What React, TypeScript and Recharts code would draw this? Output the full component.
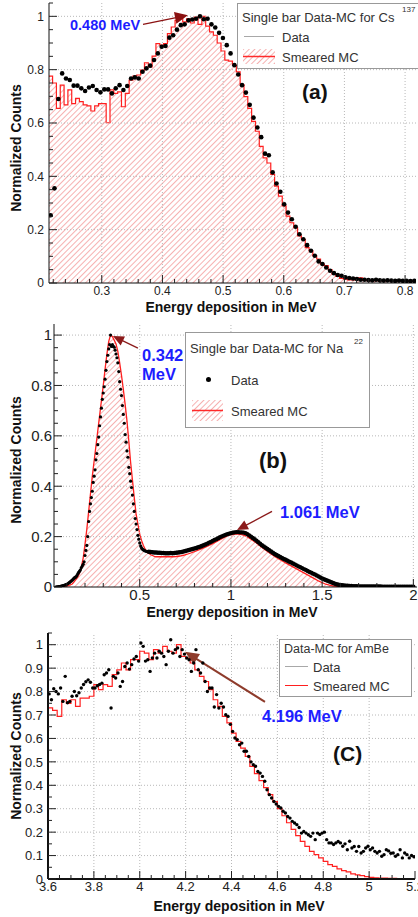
import React from 'react';
import { ComposedChart, Area, Line, Scatter, XAxis, YAxis, ReferenceLine } from 'recharts';

const FONT = '"Liberation Sans", Arial, Helvetica, sans-serif';

// ================= Panel (a): Cs-137 =================
const csBinStart = 0.2126;
const csBinWidth = 0.00631;
const csDataY = [
  0.254, 0.355, 0.69, 0.786, 0.767, 0.761, 0.74, 0.74, 0.73, 0.72,
  0.733, 0.739, 0.724, 0.715, 0.726, 0.726, 0.711, 0.73, 0.742, 0.724,
  0.739, 0.767, 0.771, 0.767, 0.792, 0.805, 0.815, 0.836, 0.861, 0.886,
  0.889, 0.92, 0.929, 0.95, 0.967, 0.97, 0.985, 0.988, 0.991, 1.0,
  0.989, 0.991, 0.97, 0.958, 0.938, 0.919, 0.892, 0.861, 0.817, 0.782,
  0.742, 0.714, 0.668, 0.62, 0.583, 0.547, 0.485, 0.479, 0.415, 0.373,
  0.342, 0.295, 0.264, 0.239, 0.211, 0.183, 0.164, 0.142, 0.121, 0.102,
  0.081, 0.071, 0.058, 0.046, 0.037, 0.03, 0.027, 0.021, 0.019, 0.017,
  0.015, 0.012, 0.012, 0.011, 0.01, 0.012, 0.01, 0.009, 0.01, 0.009,
  0.008, 0.009, 0.008, 0.008, 0.007, 0.008,
];
const csMcY = [
  0.776, 0.75, 0.655, 0.742, 0.668, 0.724, 0.673, 0.692, 0.68, 0.668,
  0.664, 0.645, 0.664, 0.673, 0.673, 0.601, 0.724, 0.711, 0.717, 0.661,
  0.711, 0.761, 0.776, 0.78, 0.798, 0.826, 0.81, 0.851, 0.898, 0.892,
  0.898, 0.935, 0.96, 0.985, 1.0, 0.979, 0.991, 0.975, 0.997, 0.97,
  1.0, 0.963, 0.942, 0.929, 0.9, 0.87, 0.836, 0.832, 0.817, 0.792,
  0.744, 0.699, 0.655, 0.606, 0.569, 0.512, 0.469, 0.45, 0.407, 0.363,
  0.326, 0.289, 0.251, 0.226, 0.208, 0.177, 0.164, 0.133, 0.121, 0.102,
  0.09, 0.071, 0.065, 0.05, 0.034, 0.025, 0.017, 0.014, 0.012, 0.012,
  0.019, 0.019, 0.01, 0.009, 0.009, 0.009, 0.008, 0.009, 0.008, 0.008,
  0.009, 0.008, 0.008, 0.007, 0.008, 0.007,
];
const csXDomain = [0.213, 0.818];
const csYDomain = [0, 1.05];
const csXMajor = [0.3, 0.4, 0.5, 0.6, 0.7, 0.8];
const csYMajor = [0, 0.2, 0.4, 0.6, 0.8, 1];
const csArrow = [{ x: 0.368, y: 0.97 }, { x: 0.442, y: 1.004 }];

// ================= Panel (b): Na-22 =================
const naFineStart = 0.04;
const naFineStep = 0.005;
const naFineY = [
  0, 0.001, 0.001, 0.002, 0.002, 0.003, 0.004, 0.005, 0.006, 0.007,
  0.008, 0.01, 0.011, 0.013, 0.015, 0.018, 0.021, 0.024, 0.027, 0.031,
  0.035, 0.038,
  0.04, 0.045, 0.052, 0.058, 0.063, 0.068, 0.077, 0.083, 0.09, 0.1,
  0.125, 0.145, 0.165, 0.2, 0.26, 0.3, 0.33, 0.355, 0.38, 0.415,
  0.44, 0.465, 0.505, 0.53, 0.565, 0.595, 0.64, 0.675, 0.71, 0.745,
  0.77, 0.795, 0.825, 0.86, 0.895, 0.92, 0.945, 0.962, 1.0, 0.955,
  0.962, 0.955, 0.952, 0.94, 0.925, 0.91, 0.89, 0.855, 0.815, 0.785,
  0.76, 0.72, 0.685, 0.65, 0.605, 0.575, 0.54, 0.515, 0.475, 0.45,
  0.42, 0.395, 0.365, 0.33, 0.3, 0.272, 0.25, 0.228, 0.205, 0.19,
  0.175, 0.163, 0.155, 0.15, 0.147, 0.145, 0.143, 0.142, 0.141, 0.14,
];
const naTailStart = 0.55;
const naTailStep = 0.01;
const naTailY = [
  0.14, 0.139, 0.138, 0.137, 0.137,
  0.136, 0.136, 0.135, 0.135, 0.134, 0.134, 0.134, 0.135, 0.134, 0.135,
  0.136, 0.137, 0.138, 0.139, 0.141, 0.143, 0.145, 0.147, 0.149, 0.151,
  0.153, 0.155, 0.158, 0.16, 0.163, 0.166, 0.169, 0.172, 0.176, 0.179,
  0.183, 0.187, 0.19, 0.194, 0.198, 0.201, 0.204, 0.207, 0.21, 0.212,
  0.214, 0.216, 0.217, 0.218, 0.218, 0.217, 0.217, 0.216, 0.214, 0.21,
  0.205, 0.2, 0.195, 0.19, 0.184, 0.178, 0.172, 0.166, 0.161, 0.156,
  0.151, 0.146, 0.141, 0.136, 0.131, 0.127, 0.123, 0.119, 0.115, 0.111,
  0.108, 0.104, 0.1, 0.097, 0.093, 0.09, 0.086, 0.082, 0.079, 0.075,
  0.071, 0.068, 0.064, 0.06, 0.057, 0.053, 0.05, 0.046, 0.042, 0.038,
  0.034, 0.031, 0.028, 0.025, 0.022, 0.019, 0.016, 0.013, 0.011, 0.009,
  0.008, 0.007, 0.006, 0.005, 0.005, 0.004, 0.004, 0.003, 0.003, 0.003,
  0.002, 0.002, 0.002, 0.002, 0.002, 0.002, 0.002, 0.002, 0.002, 0.002,
  0.002, 0.002, 0.002, 0.001, 0.001, 0.001, 0.001, 0.001, 0.001, 0.001,
  0.001, 0.001, 0.001, 0.001, 0.001, 0.001, 0.001, 0.001, 0.001, 0.001,
  0.001,
];
const naMcFineStart = 0.04;
const naMcFineStep = 0.01;
const naMcFineY = [
  0, 0, 0.001, 0.001, 0.002, 0.003, 0.004, 0.006, 0.009, 0.012,
  0.02, 0.03, 0.04, 0.055, 0.08, 0.115, 0.17, 0.23, 0.3, 0.37,
  0.44, 0.5, 0.56, 0.62, 0.68, 0.74, 0.8, 0.865, 0.925, 0.975,
  1.0, 0.995, 0.98, 0.965, 0.935, 0.89, 0.84, 0.785, 0.725, 0.66,
  0.58, 0.495, 0.425, 0.355, 0.29, 0.25, 0.21, 0.185, 0.165, 0.15,
  0.14, 0.133, 0.128, 0.125, 0.122, 0.12,
];
const naMcCoarseStart = 0.6;
const naMcCoarseStep = 0.02;
const naMcCoarseY = [
  0.12, 0.12, 0.12, 0.12, 0.12, 0.121, 0.123, 0.126, 0.13, 0.135,
  0.14, 0.146, 0.152, 0.158, 0.165, 0.172, 0.18, 0.188, 0.196, 0.203,
  0.207, 0.21, 0.21, 0.208, 0.203, 0.195, 0.185, 0.175, 0.163, 0.152,
  0.141, 0.131, 0.121, 0.112, 0.104, 0.096, 0.088, 0.08, 0.072, 0.064,
  0.056, 0.048, 0.04, 0.032, 0.024, 0.017, 0.011, 0.007, 0.004, 0.002,
  0.001, 0, 0, 0, 0, 0, 0, 0, 0, 0,
  0, 0, 0, 0, 0, 0, 0, 0, 0, 0,
  0,
];
const naXDomain = [0.03, 2.02];
const naYDomain = [0, 1.044];
const naXMajor = [0.5, 1, 1.5, 2];
const naYMajor = [0, 0.2, 0.4, 0.6, 0.8, 1];
const naArrow1 = [{ x: 0.49, y: 0.948 }, { x: 0.353, y: 0.996 }];
const naArrow2 = [{ x: 1.225, y: 0.3 }, { x: 1.033, y: 0.226 }];

// ================= Panel (c): AmBe =================
const amDataStart = 3.605;
const amDataStep = 0.01;
const amDataY = [
  0.79, 0.765, 0.812, 0.8, 0.79, 0.815, 0.758, 0.865, 0.752, 0.758,
  0.78, 0.8, 0.782, 0.795, 0.815, 0.83, 0.842, 0.85, 0.84, 0.815,
  0.815, 0.825, 0.83, 0.836, 0.872, 0.879, 0.893, 0.73, 0.865, 0.858,
  0.879, 0.822, 0.843, 0.907, 0.922, 0.896, 0.915, 0.939, 0.95, 0.93,
  1.007, 0.993, 0.93, 0.936, 0.886, 0.943, 0.964, 0.943, 0.972, 0.964,
  0.95, 0.915, 0.972, 1.021, 0.964, 0.979, 0.986, 0.95, 0.979, 0.96,
  0.943, 0.936, 0.886, 0.922, 0.979, 0.893, 0.879, 0.922, 0.843, 0.8,
  0.815, 0.815, 0.734, 0.787, 0.73, 0.75, 0.734, 0.701, 0.694, 0.66,
  0.63, 0.602, 0.595, 0.573, 0.58, 0.545, 0.545, 0.523, 0.5, 0.488,
  0.481, 0.459, 0.452, 0.438, 0.417, 0.381, 0.36, 0.346, 0.331, 0.32,
  0.31, 0.303, 0.289, 0.282, 0.267, 0.26, 0.246, 0.239, 0.232, 0.22,
  0.196, 0.203, 0.196, 0.189, 0.182, 0.196, 0.168, 0.196, 0.19, 0.196,
  0.2, 0.168, 0.154, 0.154, 0.147, 0.154, 0.16, 0.154, 0.14, 0.15,
  0.125, 0.161, 0.132, 0.139, 0.118, 0.139, 0.111, 0.118, 0.132, 0.14,
  0.125, 0.132, 0.118, 0.111, 0.118, 0.097, 0.104, 0.125, 0.12, 0.11,
  0.111, 0.097, 0.104, 0.125, 0.09, 0.111, 0.104, 0.09, 0.1, 0.095,
];
const amMcStart = 3.6;
const amMcStep = 0.02;
const amMcY = [
  0.73, 0.72, 0.694, 0.765, 0.75, 0.765, 0.737, 0.772, 0.772, 0.78,
  0.83, 0.808, 0.83, 0.822, 0.872, 0.893, 0.922, 0.893, 0.936, 0.936,
  0.972, 0.964, 0.936, 0.979, 0.964, 0.993, 0.972, 0.964, 1.0, 0.95,
  0.943, 0.922, 0.893, 0.865, 0.843, 0.808, 0.765, 0.737, 0.694, 0.666,
  0.623, 0.587, 0.559, 0.523, 0.481, 0.45, 0.42, 0.39, 0.36, 0.33,
  0.3, 0.27, 0.24, 0.212, 0.185, 0.161, 0.139, 0.118, 0.104, 0.09,
  0.075, 0.061, 0.054, 0.043, 0.036, 0.03, 0.022, 0.018, 0.014, 0.01,
  0.007, 0.005, 0.004, 0.004, 0.003, 0.003, 0.002, 0.002, 0.002, 0.002,
];
const amXDomain = [3.6, 5.2];
const amYDomain = [0, 1.05];
const amXMajor = [3.6, 3.8, 4, 4.2, 4.4, 4.6, 4.8, 5, 5.2];
const amYMajor = [0, 0.1, 0.2, 0.3, 0.4, 0.5, 0.6, 0.7, 0.8, 0.9, 1];
const amArrow = [{ x: 4.546, y: 0.756 }, { x: 4.197, y: 0.97 }];

// ================= helpers =================
const stepTicks = (lo: number, hi: number, step: number) => {
  const out: number[] = [];
  for (let k = Math.ceil(lo / step - 1e-9); k * step <= hi + 1e-9; k++) out.push(+(k * step).toFixed(6));
  return out;
};
const isMajor = (v: number, majors: number[]) => majors.some((m) => Math.abs(m - v) < 1e-6);

type Side = 'left' | 'right' | 'top' | 'bottom';
const makeTick = (side: Side, majors: number[], font: number, gap: number, majLen = 8, minLen = 4) => (p: any) => {
  const v = Number(p.payload?.value);
  const major = isMajor(v, majors);
  const len = major ? majLen : minLen;
  const x = Number(p.x);
  const y = Number(p.y);
  const label = String(Math.round(v * 1000) / 1000);
  const st = '#222';
  if (side === 'left')
    return (
      <g>
        <line x1={x} y1={y} x2={x + len} y2={y} stroke={st} strokeWidth={1} />
        {major && (
          <text x={x - gap} y={y + font * 0.36} textAnchor="end" fontSize={font} fontFamily={FONT} fill="#222">
            {label}
          </text>
        )}
      </g>
    );
  if (side === 'right') return <line x1={x} y1={y} x2={x - len} y2={y} stroke={st} strokeWidth={1} />;
  if (side === 'top') return <line x1={x} y1={y} x2={x} y2={y + len} stroke={st} strokeWidth={1} />;
  return (
    <g>
      <line x1={x} y1={y} x2={x} y2={y - len} stroke={st} strokeWidth={1} />
      {major && (
        <text x={x} y={y + gap + font * 0.72} textAnchor="middle" fontSize={font} fontFamily={FONT} fill="#222">
          {label}
        </text>
      )}
    </g>
  );
};

const arrowShape = (color: string, w: number, head: number, headW: number) => (p: any) => {
  const x1 = Number(p.x1), y1 = Number(p.y1), x2 = Number(p.x2), y2 = Number(p.y2);
  const dx = x2 - x1, dy = y2 - y1;
  const L = Math.hypot(dx, dy) || 1;
  const ux = dx / L, uy = dy / L;
  const bx = x2 - ux * head, by = y2 - uy * head;
  const px = -uy * headW, py = ux * headW;
  return (
    <g>
      <line x1={x1} y1={y1} x2={bx + ux * 1} y2={by + uy * 1} stroke={color} strokeWidth={w} />
      <polygon points={`${x2},${y2} ${bx + px},${by + py} ${bx - px},${by - py}`} fill={color} />
    </g>
  );
};

const dot = (r: number) => (p: any) => <circle cx={p.cx} cy={p.cy} r={r} fill="#000" />;

const frameAxes = (
  xDom: number[], yDom: number[], xMaj: number[], yMaj: number[], xMinor: number, yMinor: number,
  leftW: number, bottomH: number, fontX: number, fontY: number, gapX: number, gapY: number, frameW = 1,
) => {
  const xt = stepTicks(xDom[0], xDom[1], xMinor);
  const yt = stepTicks(yDom[0], yDom[1], yMinor);
  const common = { type: 'number' as const, allowDataOverflow: true, tickSize: 0, tickMargin: 0, interval: 0 as const, tickLine: false };
  return [
    <XAxis key="xb" xAxisId={0} dataKey="x" domain={xDom} ticks={xt} height={bottomH} axisLine={{ stroke: '#111', strokeWidth: frameW }} tick={makeTick('bottom', xMaj, fontX, gapX)} {...common} />,
    <XAxis key="xt" xAxisId="t" orientation="top" domain={xDom} ticks={xt} height={0} axisLine={{ stroke: '#111' }} tick={makeTick('top', xMaj, fontX, 0)} {...common} />,
    <YAxis key="yl" yAxisId={0} dataKey="y" domain={yDom} ticks={yt} width={leftW} axisLine={{ stroke: '#111', strokeWidth: frameW }} tick={makeTick('left', yMaj, fontY, gapY)} {...common} />,
    <YAxis key="yr" yAxisId="r" orientation="right" domain={yDom} ticks={yt} width={0} axisLine={{ stroke: '#111' }} tick={makeTick('right', yMaj, fontY, 0)} {...common} />,
    ...xMaj.filter((v) => v > xDom[0] + 1e-6 && v < xDom[1] - 1e-6).map((v) => (
      <ReferenceLine key={'gx' + v} x={v} stroke="#b8b8b8" strokeDasharray="1 2" />
    )),
    ...yMaj.filter((v) => v > yDom[0] + 1e-6 && v < yDom[1] - 1e-6).map((v) => (
      <ReferenceLine key={'gy' + v} y={v} stroke="#b8b8b8" strokeDasharray="1 2" />
    )),
  ];
};

const hatchDefs = (id: string) => (
  <defs>
    <pattern id={id} width="4" height="4" patternUnits="userSpaceOnUse" patternTransform="rotate(45)">
      <rect width="4" height="4" fill="#ffffff" />
      <line x1="0" y1="0" x2="0" y2="4" stroke="#f07070" strokeWidth="1.1" />
    </pattern>
  </defs>
);

// ================= derived series =================
const csScatter = csDataY.map((y, i) => ({ x: csBinStart + (i + 0.5) * csBinWidth, y }));
const csMcSteps = [
  ...csMcY.map((v, i) => ({ x: csBinStart + i * csBinWidth, mc: v })),
  { x: csBinStart + csMcY.length * csBinWidth, mc: csMcY[csMcY.length - 1] },
];

const naFineScatter = naFineY.map((y, i) => ({ x: naFineStart + i * naFineStep, y }));
const naTailScatter = naTailY.map((y, i) => ({ x: naTailStart + i * naTailStep, y }));
const naMcLine = [
  ...naMcFineY.map((v, i) => ({ x: naMcFineStart + i * naMcFineStep, mc: v })),
  ...naMcCoarseY.map((v, i) => ({ x: naMcCoarseStart + i * naMcCoarseStep, mc: v })),
];

const amScatter = amDataY.map((y, i) => ({ x: amDataStart + i * amDataStep, y }));
const amMcSteps = [
  ...amMcY.map((v, i) => ({ x: amMcStart + i * amMcStep, mc: v })),
  { x: amMcStart + amMcY.length * amMcStep, mc: amMcY[amMcY.length - 1] },
];

// ================= HTML text helpers =================
const Txt = ({ x, y, size, color = '#111', bold = false, anchor = 'left', children }: any) => (
  <div
    style={{
      position: 'absolute', left: x, top: y, fontSize: size, lineHeight: 1, color, fontWeight: bold ? 700 : 400,
      whiteSpace: 'nowrap', fontFamily: FONT,
      transform: anchor === 'center' ? 'translate(-50%, -50%)' : 'translateY(-50%)',
    }}
  >
    {children}
  </div>
);
const YTitle = ({ x, y }: { x: number; y: number }) => (
  <div
    style={{
      position: 'absolute', left: x, top: y, fontSize: 14, fontWeight: 700, lineHeight: 1, whiteSpace: 'nowrap',
      fontFamily: FONT, color: '#111', transform: 'translate(-50%, -50%) rotate(-90deg)',
    }}
  >
    Normalized Counts
  </div>
);
const HatchSample = ({ id, w, h }: { id: string; w: number; h: number }) => (
  <svg width={w} height={h} style={{ position: 'absolute', left: 0, top: 0 }}>
    {hatchDefs(id)}
    <rect x={0} y={0} width={w} height={h} fill={`url(#${id})`} />
    <line x1={0} y1={h / 2} x2={w} y2={h / 2} stroke="#ff2a2a" strokeWidth={1.5} />
  </svg>
);

const BLUE = '#1d1dff';

export default function App() {
  return (
    <div style={{ position: 'fixed', left: 0, top: 0, width: 418, height: 917, overflow: 'hidden', background: '#fff', fontFamily: FONT }}>
      {/* ---------- Panel (a) ---------- */}
      <div style={{ position: 'absolute', left: 0, top: 0 }}>
        <ComposedChart width={418} height={300} data={csMcSteps} margin={{ top: 3, right: 2, bottom: 0, left: 0 }}>
          {hatchDefs('hatchA')}
          {frameAxes(csXDomain, csYDomain, csXMajor, csYMajor, 0.02, 0.05, 49, 17, 12, 12, 3, 5)}
          <Area type="stepAfter" dataKey="mc" stroke="#ff1f1f" strokeWidth={1.2} fill="url(#hatchA)" fillOpacity={1} baseValue={0} isAnimationActive={false} dot={false} activeDot={false} />
          <Scatter data={csScatter} shape={dot(2.3)} isAnimationActive={false} />
          <ReferenceLine segment={csArrow} shape={arrowShape('#8b1212', 1.3, 13, 6)} ifOverflow="visible" />
        </ComposedChart>
      </div>

      {/* ---------- Panel (b) ---------- */}
      <div style={{ position: 'absolute', left: 0, top: 310 }}>
        <ComposedChart width={418} height={295} data={naMcLine} margin={{ top: 14, right: 1, bottom: 0, left: 0 }}>
          {hatchDefs('hatchB')}
          {frameAxes(naXDomain, naYDomain, naXMajor, naYMajor, 0.1, 0.05, 54, 18, 15, 15, 2, 2)}
          <Area type="linear" dataKey="mc" stroke="#ff1f1f" strokeWidth={1.3} fill="url(#hatchB)" fillOpacity={1} baseValue={0} isAnimationActive={false} dot={false} activeDot={false} />
          <Scatter data={naFineScatter} shape={dot(1.6)} isAnimationActive={false} />
          <Scatter data={naTailScatter} shape={dot(2.2)} isAnimationActive={false} />
          <ReferenceLine segment={naArrow1} shape={arrowShape('#8b1a1a', 1.3, 11, 5)} ifOverflow="visible" />
          <ReferenceLine segment={naArrow2} shape={arrowShape('#8b1a1a', 1.3, 11, 5)} ifOverflow="visible" />
        </ComposedChart>
      </div>

      {/* ---------- Panel (c) ---------- */}
      <div style={{ position: 'absolute', left: 0, top: 620 }}>
        <ComposedChart width={418} height={280} data={amMcSteps} margin={{ top: 13, right: 3, bottom: 0, left: 0 }}>
          {frameAxes(amXDomain, amYDomain, amXMajor, amYMajor, 0.05, 0.05, 48, 21, 13, 13, 3, 5, 2)}
          <Line type="stepAfter" dataKey="mc" stroke="#ff1f1f" strokeWidth={1.2} dot={false} activeDot={false} isAnimationActive={false} />
          <Scatter data={amScatter} shape={dot(1.7)} isAnimationActive={false} />
          <ReferenceLine segment={amArrow} shape={arrowShape('#8e3b2b', 2, 14, 6)} ifOverflow="visible" />
        </ComposedChart>
      </div>

      {/* ---------- axis titles ---------- */}
      <Txt x={231} y={307} size={14} bold anchor="center">Energy deposition in MeV</Txt>
      <Txt x={232} y={612} size={14} bold anchor="center">Energy deposition in MeV</Txt>
      <Txt x={239} y={906} size={14} bold anchor="center">Energy deposition in MeV</Txt>
      <YTitle x={16} y={148} />
      <YTitle x={16} y={460} />
      <YTitle x={16} y={756} />

      {/* ---------- annotations ---------- */}
      <Txt x={70} y={25} size={14.5} bold color={BLUE}>0.480 MeV</Txt>
      <Txt x={302} y={91} size={21} bold>(a)</Txt>
      <Txt x={142} y={355} size={16.5} bold color={BLUE}>0.342</Txt>
      <Txt x={142} y={374} size={16.5} bold color={BLUE}>MeV</Txt>
      <Txt x={280} y={512} size={16.5} bold color={BLUE}>1.061 MeV</Txt>
      <Txt x={259} y={461} size={22} bold>(b)</Txt>
      <Txt x={262} y={716} size={16.5} bold color={BLUE}>4.196 MeV</Txt>
      <Txt x={333} y={753} size={21} bold>(C)</Txt>

      {/* ---------- legend (a) ---------- */}
      <div style={{ position: 'absolute', left: 237, top: 3, width: 190, height: 64, border: '1px solid #999', background: '#fff' }} />
      <Txt x={242} y={17} size={13} color="#333">Single bar Data-MC for Cs</Txt>
      <Txt x={402} y={10} size={8} color="#333">137</Txt>
      <div style={{ position: 'absolute', left: 244, top: 36, width: 30, height: 0, borderTop: '1.5px solid #a8a8a8' }} />
      <Txt x={282} y={37} size={13} color="#333">Data</Txt>
      <div style={{ position: 'absolute', left: 243, top: 49, width: 32, height: 15 }}>
        <HatchSample id="hatchLegA" w={32} h={15} />
      </div>
      <Txt x={282} y={57} size={13} color="#333">Smeared MC</Txt>

      {/* ---------- legend (b) ---------- */}
      <div style={{ position: 'absolute', left: 185, top: 332, width: 183, height: 94, border: '1px solid #999', background: '#fff' }} />
      <Txt x={190} y={348} size={13} color="#333">Single bar Data-MC for Na</Txt>
      <Txt x={354} y={342} size={8} color="#333">22</Txt>
      <div style={{ position: 'absolute', left: 205.5, top: 376.5, width: 5, height: 5, borderRadius: 3, background: '#000' }} />
      <Txt x={231} y={380} size={13} color="#333">Data</Txt>
      <div style={{ position: 'absolute', left: 192, top: 400, width: 31, height: 21 }}>
        <HatchSample id="hatchLegB" w={31} h={21} />
      </div>
      <Txt x={231} y={411} size={13} color="#333">Smeared MC</Txt>

      {/* ---------- legend (c) ---------- */}
      <div style={{ position: 'absolute', left: 279, top: 639, width: 131, height: 56, border: '1px solid #999', background: '#fff' }} />
      <Txt x={284} y={649} size={12.5} color="#333">Data-MC for AmBe</Txt>
      <div style={{ position: 'absolute', left: 285, top: 666, width: 23, height: 0, borderTop: '1.5px solid #a8a8a8' }} />
      <Txt x={313} y={667} size={13} color="#333">Data</Txt>
      <div style={{ position: 'absolute', left: 285, top: 685, width: 23, height: 0, borderTop: '1.5px solid #ff1f1f' }} />
      <Txt x={313} y={686} size={13} color="#333">Smeared MC</Txt>
    </div>
  );
}
